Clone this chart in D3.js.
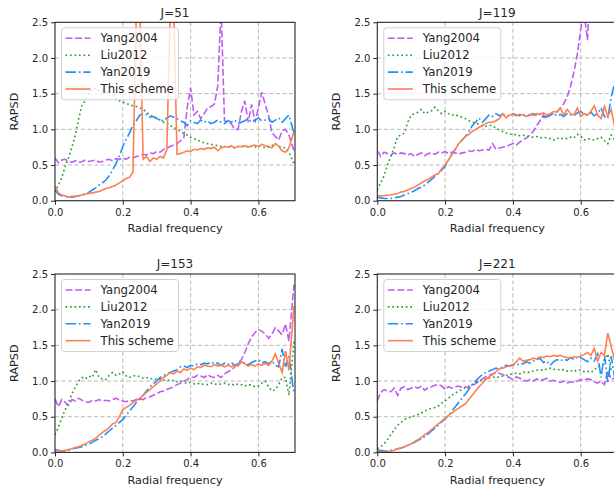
<!DOCTYPE html>
<html lang="en">
<head>
<meta charset="utf-8">
<style>
    body { margin: 0; background: #fff; }
    svg { display: block; font-family: "DejaVu Sans", sans-serif; }
</style>
</head>
<body>
<script src="https://d3js.org/d3.v7.min.js"></script>
<script>
    var width = 614, height = 489;

    // radial frequency samples (last one sits at the Nyquist edge)
    var freq = [0.00, 0.01, 0.02, 0.03, 0.04, 0.05, 0.06, 0.07, 0.08, 0.09,
        0.10, 0.11, 0.12, 0.13, 0.14, 0.15, 0.16, 0.17, 0.18, 0.19,
        0.20, 0.21, 0.22, 0.23, 0.24, 0.25, 0.26, 0.27, 0.28, 0.29,
        0.30, 0.31, 0.32, 0.33, 0.34, 0.35, 0.36, 0.37, 0.38, 0.39,
        0.40, 0.41, 0.42, 0.43, 0.44, 0.45, 0.46, 0.47, 0.48, 0.49,
        0.50, 0.51, 0.52, 0.53, 0.54, 0.55, 0.56, 0.57, 0.58, 0.59,
        0.60, 0.61, 0.62, 0.63, 0.64, 0.65, 0.66, 0.67, 0.68, 0.69, 0.705];

    var titles = ['J=51', 'J=119', 'J=153', 'J=221'];
    var methods = ['Yang2004', 'Liu2012', 'Yan2019', 'This scheme'];
    var xTicks = [0.0, 0.2, 0.4, 0.6];
    var yTicks = [0.0, 0.5, 1.0, 1.5, 2.0, 2.5];

    // J=51
    var yang51 = [0.60, 0.53, 0.57, 0.58, 0.55, 0.54, 0.56, 0.54, 0.55, 0.57,
        0.55, 0.56, 0.57, 0.54, 0.55, 0.57, 0.58, 0.56, 0.59, 0.58,
        0.60, 0.58, 0.61, 0.60, 0.62, 0.63, 0.65, 0.64, 0.67, 0.66,
        0.69, 0.68, 0.72, 0.74, 0.76, 0.78, 0.80, 0.84, 0.88, 1.30,
        1.58, 1.20, 1.25, 1.15, 1.22, 1.30, 1.32, 1.35, 1.60, 2.70,
        1.12, 1.10, 1.08, 1.00, 1.00, 1.25, 1.40, 1.10, 1.35, 1.10,
        1.30, 1.52, 1.35, 1.20, 0.95, 0.90, 0.85, 0.98, 1.00, 0.92, 0.70];
    var liu51 = [0.12, 0.22, 0.32, 0.48, 0.60, 0.75, 0.92, 1.15, 1.35, 1.40,
        1.52, 1.55, 1.58, 1.54, 1.55, 1.52, 1.54, 1.50, 1.42, 1.40,
        1.38, 1.37, 1.34, 1.33, 1.32, 1.30, 1.28, 1.24, 1.20, 1.18,
        1.16, 1.13, 1.10, 1.09, 1.05, 1.03, 1.00, 0.97, 0.94, 0.92,
        0.89, 0.87, 0.85, 0.83, 0.81, 0.80, 0.79, 0.78, 0.77, 0.76,
        0.76, 0.75, 0.76, 0.74, 0.76, 0.76, 0.75, 0.77, 0.76, 0.75,
        0.77, 0.76, 0.74, 0.75, 0.77, 0.80, 0.76, 0.75, 0.74, 0.68, 0.52];
    var yan51 = [0.15, 0.09, 0.07, 0.06, 0.05, 0.05, 0.06, 0.07, 0.08, 0.10,
        0.12, 0.15, 0.18, 0.22, 0.25, 0.29, 0.35, 0.43, 0.52, 0.63,
        0.76, 0.86, 0.95, 1.06, 1.12, 1.20, 1.22, 1.21, 1.17, 1.18,
        1.15, 1.13, 1.12, 1.16, 1.19, 1.17, 1.15, 1.12, 1.10, 1.05,
        1.12, 1.10, 1.08, 1.13, 1.10, 1.12, 1.08, 1.10, 1.13, 1.10,
        1.08, 1.12, 1.10, 1.13, 1.08, 1.10, 1.12, 1.15, 1.10, 1.13,
        1.16, 1.12, 1.13, 1.15, 1.10, 1.13, 1.16, 1.10, 1.15, 1.20, 0.95];
    var ours51 = [0.20, 0.11, 0.08, 0.07, 0.05, 0.06, 0.06, 0.07, 0.08, 0.09,
        0.10, 0.11, 0.12, 0.13, 0.15, 0.17, 0.18, 0.20, 0.22, 0.25,
        0.28, 0.31, 0.33, 0.40, 2.70, 2.70, 0.58, 0.62, 0.55, 0.60,
        0.58, 0.62, 0.60, 0.72, 2.70, 2.70, 0.65, 0.66, 0.68, 0.70,
        0.69, 0.72, 0.71, 0.73, 0.72, 0.74, 0.73, 0.75, 0.70, 0.74,
        0.76, 0.75, 0.77, 0.74, 0.76, 0.76, 0.77, 0.75, 0.77, 0.78,
        0.76, 0.79, 0.77, 0.76, 0.74, 0.80, 0.76, 0.70, 0.68, 0.74, 0.97];

    // J=119
    var yang119 = [0.70, 0.62, 0.68, 0.66, 0.64, 0.67, 0.65, 0.67, 0.66, 0.64,
        0.66, 0.62, 0.65, 0.67, 0.63, 0.66, 0.67, 0.65, 0.68, 0.67,
        0.69, 0.66, 0.68, 0.67, 0.65, 0.67, 0.68, 0.70, 0.69, 0.72,
        0.70, 0.71, 0.72, 0.71, 0.80, 0.72, 0.74, 0.75, 0.76, 0.78,
        0.80, 0.78, 0.82, 0.85, 0.88, 0.92, 0.97, 1.05, 1.12, 1.20,
        1.15, 1.20, 1.22, 1.25, 1.30, 1.36, 1.45, 1.60, 1.80, 2.05,
        2.40, 2.65, 2.25, 3.20, 3.60, 3.80, 4.00, 4.20, 4.30, 4.50, 4.60];
    var liu119 = [0.15, 0.25, 0.35, 0.50, 0.62, 0.75, 0.90, 0.92, 0.95, 1.10,
        1.20, 1.22, 1.24, 1.28, 1.22, 1.24, 1.26, 1.31, 1.26, 1.22,
        1.25, 1.22, 1.20, 1.21, 1.18, 1.17, 1.15, 1.12, 1.10, 1.09,
        1.07, 1.05, 1.04, 1.06, 1.05, 1.02, 0.99, 0.97, 0.95, 0.94,
        0.92, 0.93, 0.91, 0.92, 0.90, 0.90, 0.89, 0.90, 0.88, 0.89,
        0.88, 0.87, 0.85, 0.88, 0.86, 0.88, 0.87, 0.89, 0.88, 0.93,
        0.90, 0.85, 0.87, 0.86, 0.85, 0.87, 0.89, 0.84, 0.80, 0.92, 0.82];
    var yan119 = [0.05, 0.04, 0.03, 0.03, 0.03, 0.04, 0.05, 0.06, 0.08, 0.10,
        0.12, 0.14, 0.17, 0.19, 0.22, 0.26, 0.30, 0.34, 0.38, 0.43,
        0.48, 0.57, 0.65, 0.72, 0.80, 0.85, 0.90, 0.97, 1.05, 1.10,
        1.16, 1.10, 1.15, 1.20, 1.18, 1.22, 1.19, 1.21, 1.20, 1.18,
        1.22, 1.20, 1.19, 1.21, 1.18, 1.20, 1.22, 1.19, 1.21, 1.17,
        1.18, 1.20, 1.22, 1.19, 1.21, 1.18, 1.22, 1.20, 1.19, 1.23,
        1.25, 1.21, 1.20, 1.24, 1.19, 1.22, 1.30, 1.18, 1.15, 1.45, 1.75];
    var ours119 = [0.07, 0.07, 0.07, 0.08, 0.08, 0.09, 0.10, 0.12, 0.13, 0.15,
        0.17, 0.19, 0.22, 0.25, 0.28, 0.30, 0.33, 0.36, 0.38, 0.45,
        0.50, 0.57, 0.65, 0.72, 0.80, 0.85, 0.90, 0.93, 0.97, 1.00,
        1.03, 1.05, 1.08, 1.10, 1.10, 1.12, 1.15, 1.22, 1.16, 1.20,
        1.21, 1.19, 1.21, 1.20, 1.18, 1.21, 1.20, 1.22, 1.21, 1.23,
        1.20, 1.22, 1.25, 1.24, 1.30, 1.20, 1.28, 1.22, 1.20, 1.30,
        1.18, 1.22, 1.20, 1.25, 1.33, 1.20, 1.15, 1.32, 1.18, 1.28, 0.92];

    // J=153
    var yang153 = [0.75, 0.64, 0.74, 0.70, 0.66, 0.74, 0.72, 0.76, 0.73, 0.71,
        0.70, 0.73, 0.72, 0.74, 0.72, 0.73, 0.72, 0.74, 0.76, 0.73,
        0.72, 0.71, 0.73, 0.72, 0.74, 0.75, 0.74, 0.77, 0.78, 0.80,
        0.82, 0.85, 0.86, 0.88, 0.90, 0.92, 0.95, 0.97, 1.00, 1.02,
        1.06, 1.05, 1.08, 1.07, 1.05, 1.09, 1.06, 1.05, 1.08, 1.05,
        1.10, 1.13, 1.15, 1.20, 1.25, 1.30, 1.40, 1.52, 1.62, 1.68,
        1.72, 1.70, 1.66, 1.60, 1.66, 1.75, 1.70, 1.65, 1.80, 1.56, 2.35];
    var liu153 = [0.25, 0.35, 0.48, 0.60, 0.70, 0.82, 0.92, 1.00, 1.05, 1.03,
        1.07, 1.05, 1.16, 1.05, 1.03, 1.02, 1.08, 1.12, 1.08, 1.10,
        1.13, 1.07, 1.05, 1.07, 1.08, 1.06, 1.04, 1.05, 1.03, 1.04,
        1.02, 1.03, 1.01, 1.02, 1.00, 1.01, 0.99, 1.00, 0.98, 0.97,
        0.98, 0.96, 0.97, 0.95, 0.96, 0.95, 0.97, 0.96, 0.95, 0.96,
        0.97, 0.95, 0.96, 0.94, 0.96, 0.95, 0.93, 0.95, 0.94, 0.92,
        0.93, 0.97, 1.00, 0.92, 0.86, 0.88, 0.95, 1.05, 1.05, 0.80, 1.55];
    var yan153 = [0.04, 0.03, 0.02, 0.02, 0.03, 0.05, 0.06, 0.07, 0.08, 0.10,
        0.12, 0.14, 0.17, 0.19, 0.22, 0.26, 0.30, 0.34, 0.38, 0.42,
        0.46, 0.52, 0.58, 0.64, 0.70, 0.75, 0.80, 0.86, 0.92, 0.96,
        1.00, 1.05, 1.08, 1.10, 1.12, 1.14, 1.16, 1.20, 1.21, 1.19,
        1.22, 1.21, 1.24, 1.23, 1.25, 1.24, 1.27, 1.24, 1.25, 1.22,
        1.25, 1.23, 1.26, 1.22, 1.24, 1.27, 1.25, 1.23, 1.26, 1.28,
        1.30, 1.25, 1.27, 1.24, 1.28, 1.22, 1.20, 1.45, 1.20, 1.35, 0.82];
    var ours153 = [0.02, 0.02, 0.02, 0.03, 0.04, 0.05, 0.07, 0.08, 0.10, 0.12,
        0.15, 0.17, 0.20, 0.24, 0.28, 0.31, 0.35, 0.40, 0.42, 0.50,
        0.60, 0.63, 0.66, 0.70, 0.73, 0.76, 0.80, 0.84, 0.88, 0.92,
        0.96, 1.00, 1.05, 1.08, 1.12, 1.10, 1.14, 1.12, 1.17, 1.15,
        1.18, 1.16, 1.20, 1.19, 1.22, 1.21, 1.20, 1.23, 1.21, 1.22,
        1.20, 1.22, 1.20, 1.23, 1.21, 1.27, 1.24, 1.21, 1.23, 1.21,
        1.24, 1.22, 1.25, 1.22, 1.28, 1.38, 1.25, 1.12, 1.42, 1.15, 2.05];

    // J=221
    var yang221 = [0.72, 0.84, 0.88, 0.86, 0.85, 0.90, 0.80, 0.90, 0.92, 0.88,
        0.90, 0.92, 0.90, 0.93, 0.87, 0.91, 0.92, 0.94, 0.95, 0.93,
        0.88, 0.92, 0.90, 0.92, 0.93, 0.91, 0.92, 0.90, 0.94, 0.96,
        1.00, 1.03, 1.06, 1.08, 1.10, 1.12, 1.11, 1.09, 1.07, 1.05,
        1.02, 1.06, 1.04, 1.01, 1.00, 1.02, 1.00, 1.03, 1.01, 1.02,
        1.04, 1.00, 1.01, 0.99, 0.98, 1.00, 0.97, 0.99, 0.98, 1.00,
        1.02, 1.01, 1.03, 1.02, 0.99, 0.97, 1.00, 0.95, 1.15, 1.02, 1.05];
    var liu221 = [0.05, 0.08, 0.12, 0.18, 0.25, 0.32, 0.38, 0.42, 0.46, 0.48,
        0.50, 0.51, 0.53, 0.55, 0.58, 0.60, 0.62, 0.63, 0.65, 0.69,
        0.72, 0.76, 0.80, 0.83, 0.86, 0.88, 0.91, 0.93, 0.95, 0.98,
        1.00, 1.01, 1.03, 1.04, 1.05, 1.06, 1.05, 1.07, 1.08, 1.09,
        1.10, 1.11, 1.10, 1.12, 1.13, 1.12, 1.14, 1.15, 1.16, 1.15,
        1.17, 1.18, 1.16, 1.17, 1.15, 1.16, 1.14, 1.15, 1.13, 1.16,
        1.15, 1.13, 1.14, 1.12, 1.15, 1.20, 1.22, 1.25, 1.38, 1.15, 1.12];
    var yan221 = [0.03, 0.03, 0.02, 0.02, 0.03, 0.04, 0.05, 0.06, 0.08, 0.10,
        0.12, 0.14, 0.17, 0.19, 0.22, 0.26, 0.30, 0.34, 0.38, 0.43,
        0.47, 0.52, 0.58, 0.64, 0.70, 0.76, 0.82, 0.88, 0.95, 1.00,
        1.05, 1.09, 1.12, 1.14, 1.16, 1.18, 1.17, 1.20, 1.22, 1.21,
        1.23, 1.22, 1.25, 1.24, 1.27, 1.25, 1.28, 1.30, 1.32, 1.26,
        1.28, 1.22, 1.27, 1.30, 1.28, 1.31, 1.29, 1.33, 1.30, 1.34,
        1.33, 1.30, 1.27, 1.32, 1.28, 1.38, 1.05, 1.36, 0.97, 1.35, 0.90];
    var ours221 = [0.02, 0.01, 0.01, 0.01, 0.02, 0.03, 0.05, 0.06, 0.08, 0.10,
        0.12, 0.15, 0.18, 0.21, 0.25, 0.28, 0.32, 0.36, 0.40, 0.44,
        0.48, 0.52, 0.55, 0.59, 0.62, 0.65, 0.68, 0.74, 0.80, 0.86,
        0.92, 0.97, 1.02, 1.06, 1.09, 1.13, 1.17, 1.18, 1.20, 1.21,
        1.22, 1.27, 1.32, 1.28, 1.29, 1.30, 1.32, 1.31, 1.34, 1.33,
        1.35, 1.34, 1.36, 1.35, 1.36, 1.34, 1.33, 1.32, 1.34, 1.33,
        1.35, 1.37, 1.40, 1.36, 1.46, 1.28, 1.40, 1.36, 1.67, 1.48, 1.20];

    var panelSeries = [
        [yang51, liu51, yan51, ours51],
        [yang119, liu119, yan119, ours119],
        [yang153, liu153, yan153, ours153],
        [yang221, liu221, yan221, ours221]
    ];

    var colors = ['#c05cf2', '#2e9a2e', '#1e90ff', '#ff7f50'];
    var dashes = ['7,2.6', '1.7,2.8', '10.5,2.8,1.7,2.8', null];

    var colX = [55, 377.3], rowY = [22.3, 274];
    var w = 240, h = 178.4;

    var svg = d3.select('body').append('svg')
        .attr('width', width).attr('height', height);

    var x = d3.scaleLinear().domain([0, 0.708]).range([0, w]);
    var y = d3.scaleLinear().domain([0, 2.5]).range([h, 0]);

    var line = d3.line()
        .x(function (d) { return x(d[0]); })
        .y(function (d) { return y(d[1]); });

    titles.forEach(function (title, p) {
        var g = svg.append('g')
            .attr('transform', 'translate(' + colX[p % 2] + ',' + rowY[Math.floor(p / 2)] + ')');

        g.append('clipPath').attr('id', 'clip' + p)
            .append('rect').attr('width', w).attr('height', h);

        // grid
        g.selectAll('.gx').data(xTicks.slice(1)).join('line')
            .attr('x1', function (d) { return x(d); }).attr('x2', function (d) { return x(d); })
            .attr('y1', 0).attr('y2', h)
            .attr('stroke', '#b0b0b0').attr('stroke-width', 0.9).attr('stroke-dasharray', '4,2.5');
        g.selectAll('.gy').data(yTicks.slice(1, -1)).join('line')
            .attr('y1', function (d) { return y(d); }).attr('y2', function (d) { return y(d); })
            .attr('x1', 0).attr('x2', w)
            .attr('stroke', '#b0b0b0').attr('stroke-width', 0.9).attr('stroke-dasharray', '4,2.5');

        // curves
        var plot = g.append('g').attr('clip-path', 'url(#clip' + p + ')');
        panelSeries[p].forEach(function (vals, s) {
            plot.append('path')
                .datum(freq.map(function (f, i) { return [f, vals[i]]; }))
                .attr('d', line)
                .attr('fill', 'none')
                .attr('stroke', colors[s])
                .attr('stroke-width', 1.6)
                .attr('stroke-dasharray', dashes[s]);
        });

        // axes
        var ax = g.append('g').attr('transform', 'translate(0,' + h + ')')
            .call(d3.axisBottom(x).tickValues(xTicks).tickFormat(d3.format('.1f')).tickSize(4).tickPadding(4));
        var ay = g.append('g')
            .call(d3.axisLeft(y).tickValues(yTicks).tickFormat(d3.format('.1f')).tickSize(4).tickPadding(3));
        [ax, ay].forEach(function (a) {
            a.select('.domain').remove();
            a.selectAll('text').attr('font-size', 10).attr('fill', '#262626')
                .attr('font-family', '"DejaVu Sans", sans-serif');
            a.selectAll('line').attr('stroke', '#262626');
        });

        g.append('rect').attr('width', w).attr('height', h)
            .attr('fill', 'none').attr('stroke', '#262626').attr('stroke-width', 1.1);

        // labels
        g.append('text').attr('x', w / 2).attr('y', -5.6)
            .attr('text-anchor', 'middle').attr('font-size', 12).attr('fill', '#262626').text(title);
        g.append('text').attr('x', w / 2).attr('y', h + 31.5)
            .attr('text-anchor', 'middle').attr('font-size', 11.3).attr('fill', '#262626').text('Radial frequency');
        g.append('text').attr('transform', 'translate(' + -37 + ',' + h / 2 + ') rotate(-90)')
            .attr('text-anchor', 'middle').attr('font-size', 11.3).attr('fill', '#262626').text('RAPSD');

        // legend
        var lg = g.append('g').attr('transform', 'translate(6.5,5.5)');
        lg.append('rect').attr('width', 117).attr('height', 72).attr('rx', 3)
            .attr('fill', 'rgba(255,255,255,0.8)').attr('stroke', '#cccccc').attr('stroke-width', 0.9);
        methods.forEach(function (m, s) {
            var cy = 10.5 + s * 16.9;
            lg.append('line').attr('x1', 4).attr('x2', 29).attr('y1', cy).attr('y2', cy)
                .attr('stroke', colors[s]).attr('stroke-width', 1.6).attr('stroke-dasharray', dashes[s]);
            lg.append('text').attr('x', 39).attr('y', cy + 4.2)
                .attr('font-size', 11.7).attr('fill', '#262626').text(m);
        });
    });
</script>
</body>
</html>
